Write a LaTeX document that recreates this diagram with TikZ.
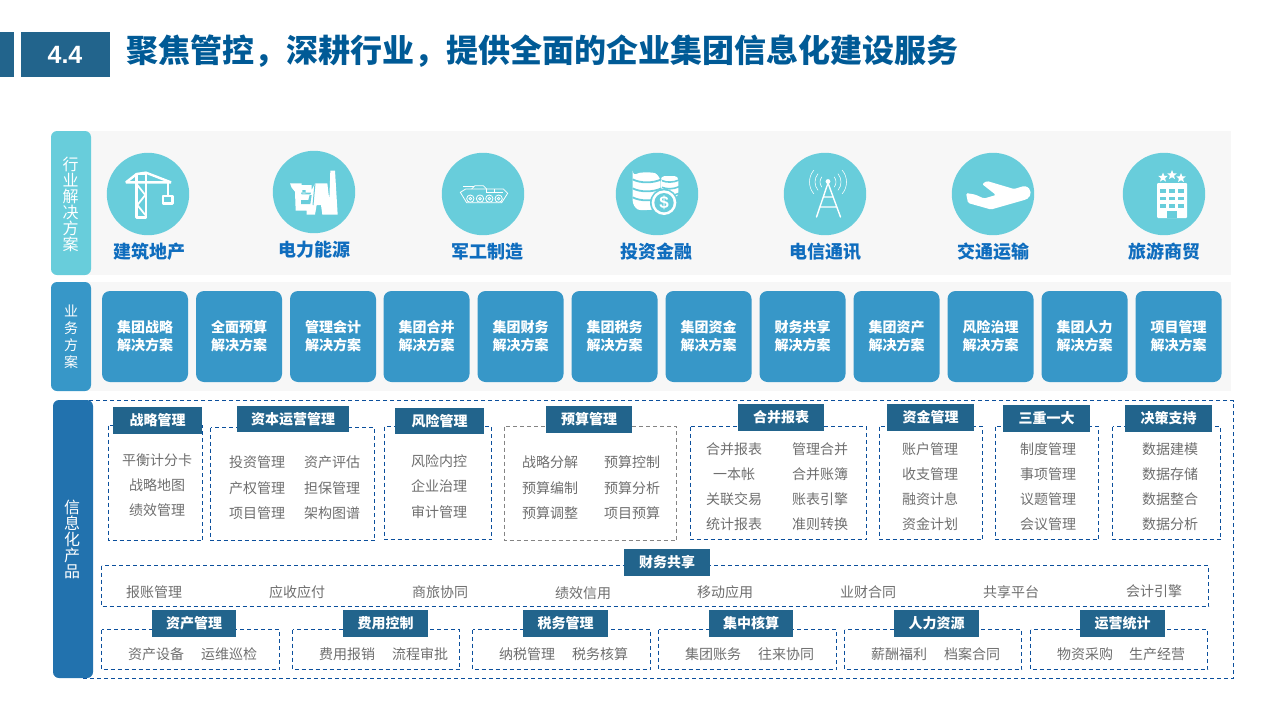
\documentclass[tikz,border=0pt]{standalone}
\usepackage{fontspec}
\setmainfont{Noto Sans CJK SC}
\newfontfamily\latinfont{Liberation Sans}
\usetikzlibrary{shapes.geometric}
\definecolor{headblue}{HTML}{22648C}
\definecolor{titleblue}{HTML}{005A96}
\definecolor{industryteal}{HTML}{68CDDB}
\definecolor{industryblue}{HTML}{0F6DBE}
\definecolor{planblue}{HTML}{3797C8}
\definecolor{productblue}{HTML}{2272AE}
\definecolor{bandgrey}{HTML}{F7F7F7}
\definecolor{dashblue}{HTML}{0B4F9C}
\definecolor{itemgrey}{HTML}{6E6E6E}
\tikzset{
  sidebar/.style = {rounded corners=6pt, inner sep=0pt, text=white, align=center},
  groupbox/.style = {draw=dashblue, line width=1pt, dash pattern=on 4pt off 3pt},
  headbox/.style = {fill=headblue},
  headtext/.style = {text=white, inner sep=0pt, font=\fontsize{14}{14}\selectfont\bfseries, text height=12pt, text depth=2pt},
  itemtext/.style = {text=itemgrey, inner sep=0pt, font=\fontsize{14}{14}\selectfont, text height=12pt, text depth=2pt},
  industry/.style = {text=industryblue, inner sep=0pt, font=\fontsize{18}{18}\selectfont\bfseries, text height=15.5pt, text depth=2.5pt},
  planbox/.style = {fill=planblue, rounded corners=8pt, minimum width=86pt, minimum height=91pt, inner sep=0pt,
    text=white, align=center, font=\fontsize{14}{18}\selectfont\bfseries},
  iconline/.style = {draw=white, line width=2.4pt, line join=bevel},
  thinline/.style = {draw=white, line width=.8pt}
}
\begin{document}
\begin{tikzpicture}[x=1pt, y=-1pt]
  \useasboundingbox (0,0) rectangle (1280,720);
  \fill[headblue] (0,32) rectangle (14,77);
  \fill[headblue] (21,32) rectangle (110,77);
  \node[text=white, font=\fontsize{25}{25}\selectfont\latinfont\bfseries] (secno) at (65,55) {4.4};
  \node[anchor=west, inner sep=0pt, text=titleblue, font=\fontsize{32}{32}\selectfont\bfseries] (title) at (126,51.5)
    {聚焦管控，深耕行业，提供全面的企业集团信息化建设服务};

  \fill[bandgrey] (80,131) rectangle (1231,275);
  \fill[industryteal, rounded corners=6pt] (51,131) rectangle (91,275);
  \node[sidebar, font=\fontsize{16}{16}\selectfont, text width=20pt] (side1) at (70.5,204) {行\\业\\解\\决\\方\\案};
  \foreach \x/\y/\lx/\ly/\txt [count=\i] in {148/194/149/251.5/建筑地产, 314/192/314/249.5/电力能源, 483/194/487/251.5/军工制造,
      657/194/656/251.5/投资金融, 825/194/825/251.5/电信通讯, 993/194/993/251.5/交通运输, 1164/194/1164/251.5/旅游商贸} {
    \fill[industryteal] (\x,\y) circle (41.2);
    \node[industry] (ind\i) at (\lx,\ly) {\txt};
  }

  % crane
  \begin{scope}[shift={(100,150)}, scale=1/3]
    \draw[iconline] (110,202) -- (110,72) -- (138,72) -- (138,202) -- cycle;
    \draw[iconline] (78,97) -- (110,72) -- (138,68) -- (213,97) -- cycle;
    \draw[iconline, line width=1.8pt] (112,105) -- (136,135) -- (112,165) -- (136,195);
    \draw[iconline, line width=1.8pt] (204,97) -- (204,137);
    \draw[iconline] (189,138) rectangle (217,161);
  \end{scope}
  % power plant
  \begin{scope}[shift={(265,150)}, scale=1/3]
    \fill[white] (75,100) -- (110,100) -- (110,105) -- (140,105) -- (140,120) -- (150,100) -- (187,100)
      -- (193,150) -- (196,62) -- (210,62) -- (218,194) -- (172,194) -- (168,165) -- (155,165) -- (150,194)
      -- (125,194) -- (125,182) -- (92,182) -- (90,125) -- (80,113) -- cycle;
    \fill[industryteal] (112,120) rectangle (122,130) (108,128) -- (138,128) -- (136,133) -- (110,133) -- cycle
      (108,150) -- (130,150) -- (134,135) -- (140,135) -- (136,162) -- (108,162) -- cycle;
    \draw[industryteal, line width=1pt] (150,100) -- (144,165);
  \end{scope}
  % armoured vehicle
  \begin{scope}[shift={(435,150)}, scale=1/3]
    \draw[thinline] (76,127) -- (92,117) -- (205,117) -- (218,130) -- (200,158) -- (95,158) -- cycle;
    \draw[thinline] (110,117) -- (120,107) -- (145,107) -- (155,117);
    \draw[thinline] (85,110) -- (118,110) (155,117) -- (155,127) -- (205,127) (178,117) -- (178,127);
    \foreach \cx in {106,135,163,191} {
      \fill[industryteal] (\cx,146) circle (12);
      \draw[thinline] (\cx,146) circle (11) (\cx,146) circle (4);
    }
  \end{scope}
  % coins
  \begin{scope}[shift={(620,160)}, scale=1/3]
    \fill[white, rounded corners=4pt] (122,48) -- (175,48) -- (175,112) -- (122,112) -- cycle;
    \foreach \sy in {62,82,102}
      \draw[industryteal, line width=1.6pt] (126,\sy) .. controls (140,\sy+6) and (160,\sy+6) .. (177,\sy-2);
    \fill[industryteal] (120,40) rectangle (124,130);
    \fill[white, rounded corners=6pt] (38,50) -- (38,140) .. controls (60,152) and (90,150) .. (122,145) -- (122,50)
      .. controls (100,36) and (60,36) .. (38,50) -- cycle;
    \foreach \sy in {58,85,112}
      \draw[industryteal, line width=1.8pt] (38,\sy) .. controls (60,\sy+12) and (100,\sy+12) .. (124,\sy);
    \fill[industryteal] (132,128) circle (42);
    \fill[white] (132,128) circle (37);
    \fill[industryteal] (132,128) circle (29);
    \node[text=white, font=\fontsize{17}{17}\selectfont\latinfont\bfseries, inner sep=0pt] (dollar) at (132,128) {\$};
  \end{scope}
  % antenna
  \draw[thinline, line width=1.4pt, line cap=round] (816.5,217) -- (828,183) -- (840.5,217) (823.5,197) -- (832.5,197)
    (819.5,207) -- (837,207);
  \fill[white] (828,181.5) circle (2.4);
  \foreach \r in {8,13,18.5} {
    \draw[thinline, line width=.55pt] (828,182) ++(-40:\r) arc (-40:40:\r);
    \draw[thinline, line width=.55pt] (828,182) ++(140:\r) arc (140:220:\r);
  }
  % aeroplane
  \fill[white, rounded corners=1.5pt] (1014,189) -- (987,181) -- (982,184) -- (996,195) -- (984,198.5) -- (975,194.5)
    -- (966,193) -- (968,203) -- (991,209.5) -- (1026,199.5) .. controls (1032,196) and (1032,188) .. (1024,186) -- cycle;
  % hotel
  \fill[white, rounded corners=1pt] (1157,183) rectangle (1187,218);
  \foreach \wx in {1163,1172,1181}
    \foreach \wy in {191,198.5,206}
      \fill[industryteal] (\wx-2.6,\wy-1.8) rectangle (\wx+2.6,\wy+1.8);
  \fill[industryteal] (1167,211) rectangle (1177,218);
  \foreach \sx/\sy [count=\i] in {1163/177.5, 1172/175, 1181/178}
    \node[star, star points=5, star point ratio=2.3, fill=white, inner sep=0pt, minimum size=10pt] (hstar\i) at (\sx,\sy) {};

  \fill[bandgrey] (80,282) rectangle (1231,391);
  \fill[planblue, rounded corners=6pt] (51,282) rectangle (91,391);
  \node[sidebar, font=\fontsize{14}{17}\selectfont, text width=20pt] (side2) at (71,337) {业\\务\\方\\案};
  \foreach \x/\txt [count=\i] in {145/集团战略, 239/全面预算, 333/管理会计, 426.5/集团合并, 520.5/集团财务, 614.5/集团税务,
      708.5/集团资金, 802.5/财务共享, 896.5/集团资产, 990.5/风险治理, 1084.5/集团人力, 1178.5/项目管理}
    \node[planbox] (plan\i) at (\x,336.5) {\txt\\解决方案};

  \draw[groupbox] (81,400.5) rectangle (1233.5,678.5);
  \fill[productblue, rounded corners=6pt] (53,400) rectangle (93,678);
  \node[sidebar, font=\fontsize{16}{16}\selectfont, text width=20pt] (side3) at (72,539.5) {信\\息\\化\\产\\品};

  \foreach \xa/\ya/\xb/\yb in {108.5/425.5/202.5/540.5, 210.5/427.5/374.5/540.5, 384.5/426.5/491.5/539.5,
      690.5/426.5/866.5/539.5, 879.5/426.5/982.5/539.5, 995.5/426.5/1098.5/539.5, 1112.5/426.5/1220.5/539.5,
      101.5/565.5/1208.5/606.5, 101.5/629.5/279.5/669.5, 292.5/629.5/459.5/669.5, 472.5/629.5/650.5/669.5,
      658.5/629.5/836.5/669.5, 844.5/629.5/1021.5/669.5, 1030.5/629.5/1207.5/669.5}
    \draw[groupbox] (\xa,\ya) rectangle (\xb,\yb);
  \draw[groupbox, draw=itemgrey!85] (504.5,426.5) rectangle (676.5,540.5);

  \foreach \xa/\ya/\xb/\yb/\txt [count=\i] in {113/407/202/434/战略管理, 237/406/349/432/资本运营管理, 395/408/484/434/风险管理,
      546/406/632/433/预算管理, 738/404/824/431/合并报表, 887/404/974/431/资金管理, 1003/405/1090/432/三重一大,
      1125/405/1212/432/决策支持, 624/549/710/576/财务共享, 152/610/236/637/资产管理, 343/610/428/637/费用控制,
      523/610/608/637/税务管理, 709/610/793/637/集中核算, 894/610/979/637/人力资源, 1080/610/1165/637/运营统计} {
    \fill[headbox] (\xa,\ya) rectangle (\xb,\yb);
    \node[headtext] (head\i) at ({(\xa+\xb)/2},{(\ya+\yb)/2}) {\txt};
  }

  \foreach \x/\y/\txt [count=\i] in {157/460/平衡计分卡, 157/485/战略地图, 157/510/绩效管理,
      257/462/投资管理, 332/462/资产评估, 257/488/产权管理, 332/488/担保管理, 257/513/项目管理, 332/513/架构图谱,
      439/461/风险内控, 439/486/企业治理, 439/512/审计管理,
      550/462/战略分解, 632/462/预算控制, 550/488/预算编制, 632/488/预算分析, 550/513/预算调整, 632/513/项目预算,
      734/449/合并报表, 820/449/管理合并, 734/474/一本帐, 820/474/合并账簿, 734/499/关联交易, 820/499/账表引擎, 734/524/统计报表, 820/524/准则转换,
      930/449/账户管理, 930/474/收支管理, 930/499/融资计息, 930/524/资金计划,
      1048/449/制度管理, 1048/474/事项管理, 1048/499/议题管理, 1048/524/会议管理,
      1170/449/数据建模, 1170/474/数据存储, 1170/499/数据整合, 1170/524/数据分析,
      154/592/报账管理, 297/592/应收应付, 440/592/商旅协同, 583/593/绩效信用, 725/592/移动应用, 868/592/业财合同, 1011/592/共享平台, 1154/591/会计引擎,
      156/654/资产设备, 229/654/运维巡检, 347/654/费用报销, 420/654/流程审批, 527/654/纳税管理, 600/654/税务核算,
      713/654/集团账务, 786/654/往来协同, 899/654/薪酬福利, 972/654/档案合同, 1085/654/物资采购, 1157/654/生产经营}
    \node[itemtext] (item\i) at (\x,\y) {\txt};
\end{tikzpicture}
\end{document}
